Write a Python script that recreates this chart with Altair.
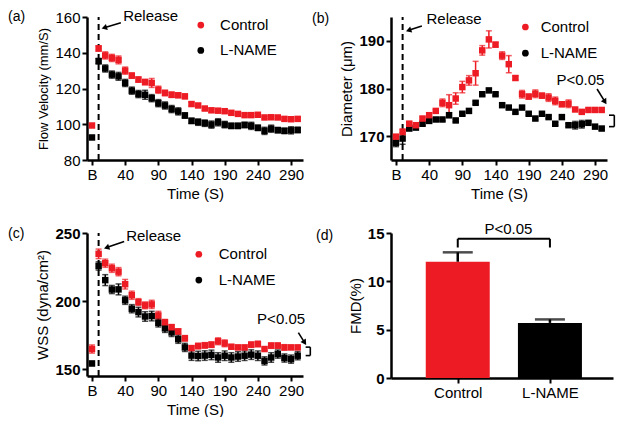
import altair as alt
import pandas as pd

RED = "#ED1C24"
BLACK = "#000000"
FONT = "Liberation Sans"

groups = ["Control", "L-NAME"]
point_index = list(range(32))          # 0 = baseline "B", 1..31 = 0..300 s
tick_index = [0, 5, 10, 15, 20, 25, 30]  # labelled B, 40, 90, ... 290

# (a) Flow velocity (mm/S)
fv_control = [99.3, 142.4, 138.5, 137.1, 136.0, 130.0, 127.2, 125.0, 123.6, 123.1, 119.3,
              117.5, 116.5, 116.2, 115.6, 111.3, 110.5, 108.8, 107.8, 107.6, 107.3, 106.4,
              105.8, 105.1, 105.1, 105.3, 103.8, 103.9, 103.8, 103.0, 102.8, 103.0]
fv_control_sem = [0.6, 1.5, 2.0, 2.0, 2.2, 2.0, 1.5, 1.5, 1.5, 2.5, 2.0, 1.5, 1.5, 1.2, 1.2, 1.0,
                  1.0, 1.0, 1.0, 1.0, 1.0, 0.8, 0.8, 0.8, 0.8, 0.8, 0.8, 0.8, 0.8, 0.8, 0.8, 0.8]
fv_lname = [92.6, 135.3, 131.2, 127.8, 126.8, 123.1, 118.8, 116.9, 116.5, 114.6, 111.8,
            110.5, 108.5, 107.2, 104.9, 101.9, 101.2, 100.6, 99.8, 101.1, 99.8, 99.1,
            99.1, 99.6, 99.1, 98.0, 96.3, 97.5, 96.7, 96.3, 96.6, 96.8]
fv_lname_sem = [1.0, 1.5, 2.0, 2.0, 2.2, 2.0, 2.0, 2.0, 2.5, 2.0, 2.0, 2.0, 2.0, 2.0, 1.5, 1.5,
                1.8, 1.8, 2.0, 2.0, 1.8, 1.5, 1.5, 1.5, 2.0, 1.5, 2.0, 2.0, 1.5, 1.5, 2.0, 1.5]

# (b) Diameter (um)
di_control = [169.9, 170.9, 172.6, 172.3, 173.7, 174.4, 175.3, 177.0, 176.5, 177.9, 180.3,
              181.7, 183.2, 188.0, 190.3, 189.2, 186.9, 185.1, 182.2, 178.8, 178.3, 178.9,
              178.5, 178.1, 177.4, 176.7, 176.8, 175.6, 175.1, 175.5, 175.5, 175.5]
di_control_sem = [0.3, 0.6, 0.5, 0.3, 0.3, 0.5, 0.3, 0.8, 2.2, 1.2, 1.2, 1.0, 2.5, 1.0, 1.8, 0.5,
                  0.8, 1.8, 0.4, 0.8, 0.5, 0.8, 0.5, 0.8, 0.8, 0.5, 0.8, 0.3, 0.3, 0.3, 0.3, 0.3]
di_lname = [168.6, 169.5, 171.6, 171.8, 172.6, 173.2, 173.5, 173.5, 174.4, 173.3, 174.7,
            175.3, 177.0, 178.8, 179.6, 178.8, 176.5, 176.0, 175.1, 176.0, 174.7, 173.7,
            174.7, 174.0, 172.6, 174.0, 172.3, 172.3, 172.5, 172.8, 172.0, 171.6]
di_lname_sem = [0.8, 1.2, 0.3, 0.3, 0.3, 0.3, 0.3, 0.3, 0.5, 0.3, 0.3, 0.3, 0.3, 0.3, 0.3, 0.3,
                0.3, 0.3, 0.3, 0.3, 0.3, 0.3, 0.3, 0.3, 0.3, 0.3, 0.3, 0.8, 0.8, 0.3, 0.3, 0.3]

# (c) WSS (dyna/cm2)
wss_control = [164.8, 234.7, 227.8, 224.1, 221.6, 212.4, 204.3, 199.3, 196.9, 197.6, 189.5,
               184.5, 180.8, 177.7, 172.7, 165.5, 167.0, 167.5, 168.0, 170.5, 169.0, 166.5,
               166.0, 166.0, 168.0, 168.5, 164.8, 167.3, 167.3, 166.0, 166.0, 166.0]
wss_control_sem = [3, 3.5, 3, 3, 3, 3.5, 3, 2.5, 2.5, 3, 3, 2, 2, 2, 2, 1.5,
                   2, 2, 2, 2.5, 2.5, 1.5, 1.5, 1.5, 2, 2, 1, 2, 2, 2, 1.5, 1.5]
wss_lname = [154.2, 225.8, 215.4, 208.5, 208.6, 200.6, 194.4, 191.9, 188.7, 189.0, 184.0,
             180.0, 177.0, 172.0, 166.0, 160.0, 159.7, 160.0, 160.5, 158.6, 159.9, 158.6,
             159.3, 159.9, 160.7, 159.9, 156.1, 158.6, 161.1, 158.2, 157.4, 159.9]
wss_lname_sem = [1.5, 3, 4, 3, 4, 3, 3, 3.5, 3.5, 3.5, 3, 3, 3, 3, 3, 3.5,
                 3.5, 3.5, 3.5, 3.5, 3.5, 3.5, 3.5, 3.5, 3.5, 3.5, 3, 3.5, 3, 3, 3, 3]

# (d) FMD (%)
fmd_pos = [1, 2]
fmd_mean = [12.03, 5.70]
fmd_sem = [0.97, 0.36]

XSCALE = alt.Scale(domain=[-0.75, 31.8], nice=False, zero=False)
XAXIS = alt.Axis(values=tick_index, labelFlush=False, title="Time (S)",
                 labelExpr="datum.value == 0 ? 'B' : toString(datum.value * 10 - 10)")
COLOR = alt.Color("group:N", scale=alt.Scale(domain=groups, range=[RED, BLACK]), legend=None)
TXT = 15
PW, PH = 216, 143


def series_frame(ctrl, ctrl_sem, lname, lname_sem):
    rows = []
    for g, means, sems in (("L-NAME", lname, lname_sem), ("Control", ctrl, ctrl_sem)):
        for i, m, s in zip(point_index, means, sems):
            rows.append({"idx": i, "mean": m, "lo": m - s, "hi": m + s, "group": g})
    return pd.DataFrame(rows)


def tag_layer(tag, dx, dy):
    return alt.Chart(pd.DataFrame({"t": [tag]})).mark_text(
        align="left", baseline="middle", fontSize=14, font=FONT, color="black"
    ).encode(x=alt.value(dx), y=alt.value(dy), text="t:N")


def time_panel(df, ydom, yticks, ytitle, ytitle_size, ybold, tag, tag_dx, tag_dy,
               release, legend, pval=None):
    yscale = alt.Scale(domain=ydom, nice=False, zero=False)
    yax = alt.Axis(values=yticks, title=ytitle, titleFontSize=ytitle_size,
                   labelFontWeight="bold" if ybold else "normal")

    def X(field):
        return alt.X(field, type="quantitative", scale=XSCALE, axis=XAXIS)

    def Y(field):
        return alt.Y(field, type="quantitative", scale=yscale, axis=yax)

    def arrow(x1, y1, x2, y2, angle):
        seg = pd.DataFrame({"x": [x1], "y": [y1], "x2": [x2], "y2": [y2], "a": [angle]})
        line = alt.Chart(seg).mark_rule(color="black", strokeWidth=1.6).encode(
            x=X("x"), x2="x2:Q", y=Y("y"), y2="y2:Q")
        head = alt.Chart(seg).mark_point(shape="triangle-up", filled=True, size=40,
                                         color="black", opacity=1).encode(
            x=X("x2"), y=Y("y2"), angle=alt.Angle("a:Q", scale=None))
        return [line, head]

    base = alt.Chart(df)
    errs = base.mark_rule(strokeWidth=1.5).encode(x=X("idx"), y=Y("lo"), y2="hi:Q", color=COLOR)
    cap_lo = base.mark_tick(orient="horizontal", size=6, thickness=1.5).encode(
        x=X("idx"), y=Y("lo"), color=COLOR)
    cap_hi = base.mark_tick(orient="horizontal", size=6, thickness=1.5).encode(
        x=X("idx"), y=Y("hi"), color=COLOR)
    pts = base.mark_point(shape="square", filled=True, size=42, opacity=1).encode(
        x=X("idx"), y=Y("mean"), color=COLOR)

    dash = alt.Chart(pd.DataFrame({"x": [1], "y": [ydom[0]], "y2": [ydom[1]]})).mark_rule(
        color="black", strokeWidth=2, strokeDash=[6, 4]).encode(x=X("x"), y=Y("y"), y2="y2:Q")

    rtx, rty, ax1, ay1, ax2, ay2, aang = release
    rel_text = alt.Chart(pd.DataFrame({"x": [rtx], "y": [rty], "t": ["Release"]})).mark_text(
        align="left", baseline="middle", fontSize=TXT, font=FONT, color="black").encode(
        x=X("x"), y=Y("y"), text="t:N")

    lpx, ltx, lyc, lyl = legend
    leg = pd.DataFrame({"x": [lpx, lpx], "tx": [ltx, ltx], "y": [lyc, lyl], "group": groups})
    leg_pts = alt.Chart(leg).mark_point(shape="circle", filled=True, size=45, opacity=1).encode(
        x=X("x"), y=Y("y"), color=COLOR)
    leg_txt = alt.Chart(leg).mark_text(align="left", baseline="middle", fontSize=TXT,
                                       font=FONT, color="black").encode(
        x=X("tx"), y=Y("y"), text="group:N")

    layers = [dash, errs, cap_lo, cap_hi, pts, rel_text]
    layers += arrow(ax1, ay1, ax2, ay2, aang)
    layers += [leg_pts, leg_txt]

    if pval is not None:
        ptx, pty, bx1, by1, bx2, by2, bang, kx1, kx2, ky1, ky2 = pval
        p_text = alt.Chart(pd.DataFrame({"x": [ptx], "y": [pty], "t": ["P<0.05"]})).mark_text(
            align="center", baseline="middle", fontSize=TXT, font=FONT, color="black").encode(
            x=X("x"), y=Y("y"), text="t:N")
        layers.append(p_text)
        layers += arrow(bx1, by1, bx2, by2, bang)
        br = pd.DataFrame({"x": [kx2, kx1, kx1], "x2": [kx2, kx2, kx2],
                           "y": [ky1, ky1, ky2], "y2": [ky2, ky1, ky2]})
        bracket = alt.Chart(br).mark_rule(color="black", strokeWidth=1.6).encode(
            x=X("x"), x2="x2:Q", y=Y("y"), y2="y2:Q")
        layers.append(bracket)

    layers.append(tag_layer(tag, tag_dx, tag_dy))
    return alt.layer(*layers).properties(width=PW, height=PH)


panel_a = time_panel(
    series_frame(fv_control, fv_control_sem, fv_lname, fv_lname_sem),
    [80, 160], [80, 100, 120, 140, 160], "Flow Velocity (mm/S)", 13, False,
    "(a)", -79, 0,
    (4.7, 160.6, 4.35, 156.8, 1.85, 154.0, 253),
    (16.4, 19.3, 155.5, 141.3))

panel_b = time_panel(
    series_frame(di_control, di_control_sem, di_lname, di_lname_sem),
    [165, 195], [170, 180, 190], "Diameter (μm)", TXT, True,
    "(b)", -79, 2,
    (4.6, 194.5, 3.9, 193.1, 1.9, 192.2, 252),
    (19.5, 21.8, 192.9, 187.4),
    (27.8, 181.7, 30.3, 179.9, 31.5, 177.2, 148, 32.1, 32.9, 172.0, 174.4))

panel_c = time_panel(
    series_frame(wss_control, wss_control_sem, wss_lname, wss_lname_sem),
    [145, 250], [150, 200, 250], "WSS (dyna/cm²)", TXT, True,
    "(c)", -79, 1,
    (5.15, 247.5, 4.85, 243.8, 2.2, 239.3, 251),
    (16.1, 19.1, 234.4, 215.4),
    (28.5, 187.0, 31.1, 176.9, 32.05, 169.5, 147, 32.2, 32.9, 160.0, 166.2))

# (d) bar chart
fmd_df = pd.DataFrame({"pos": fmd_pos, "group": groups, "mean": fmd_mean,
                       "hi": [m + s for m, s in zip(fmd_mean, fmd_sem)]})
bx = alt.Scale(domain=[0.33, 2.63], nice=False, zero=False)
by = alt.Scale(domain=[0, 15], nice=False)
BXAX = alt.Axis(values=fmd_pos, title=None, labelFlush=False,
                labelExpr="datum.value == 1 ? 'Control' : 'L-NAME'")
BYAX = alt.Axis(values=[0, 5, 10, 15], title="FMD(%)", labelFontWeight="bold")


def BX(field):
    return alt.X(field, type="quantitative", scale=bx, axis=BXAX)


def BY(field):
    return alt.Y(field, type="quantitative", scale=by, axis=BYAX)


bars = alt.Chart(fmd_df).mark_bar(size=64).encode(x=BX("pos"), y=BY("mean"), color=COLOR)
bar_err = alt.Chart(fmd_df).mark_rule(color="black", strokeWidth=2.5).encode(
    x=BX("pos"), y=BY("mean"), y2="hi:Q")
bar_cap = alt.Chart(fmd_df).mark_tick(orient="horizontal", size=30, thickness=2.5,
                                      color="black").encode(x=BX("pos"), y=BY("hi"))
sig = pd.DataFrame({"x": [1, 1, 2], "x2": [2, 1, 2], "y": [14.4, 13.5, 13.5],
                    "y2": [14.4, 14.4, 14.4]})
sig_rule = alt.Chart(sig).mark_rule(color="black", strokeWidth=2).encode(
    x=BX("x"), x2="x2:Q", y=BY("y"), y2="y2:Q")
sig_text = alt.Chart(pd.DataFrame({"x": [1.55], "y": [14.55], "t": ["P<0.05"]})).mark_text(
    align="center", baseline="bottom", fontSize=TXT, font=FONT, color="black").encode(
    x=BX("x"), y=BY("y"), text="t:N")
panel_d = alt.layer(bars, bar_err, bar_cap, sig_rule, sig_text,
                    tag_layer("(d)", -75, 3)).properties(width=222, height=145)

chart = alt.concat(panel_a, panel_b, panel_c, panel_d, columns=2, bounds="flush",
                   spacing={"row": 73, "column": 88},
                   padding={"left": 0, "top": 0, "right": 0, "bottom": 0}
                   ).configure_view(stroke=None).configure_axis(
    domainColor="black", domainWidth=2.5, tickColor="black", tickWidth=2, tickSize=5,
    labelColor="black", titleColor="black", labelFont=FONT, titleFont=FONT,
    labelFontSize=TXT, titleFontSize=TXT, titleFontWeight="normal", grid=False,
    labelPadding=2, titlePadding=4)

chart.save("out.html", embed_options={"renderer": "svg", "actions": False})
